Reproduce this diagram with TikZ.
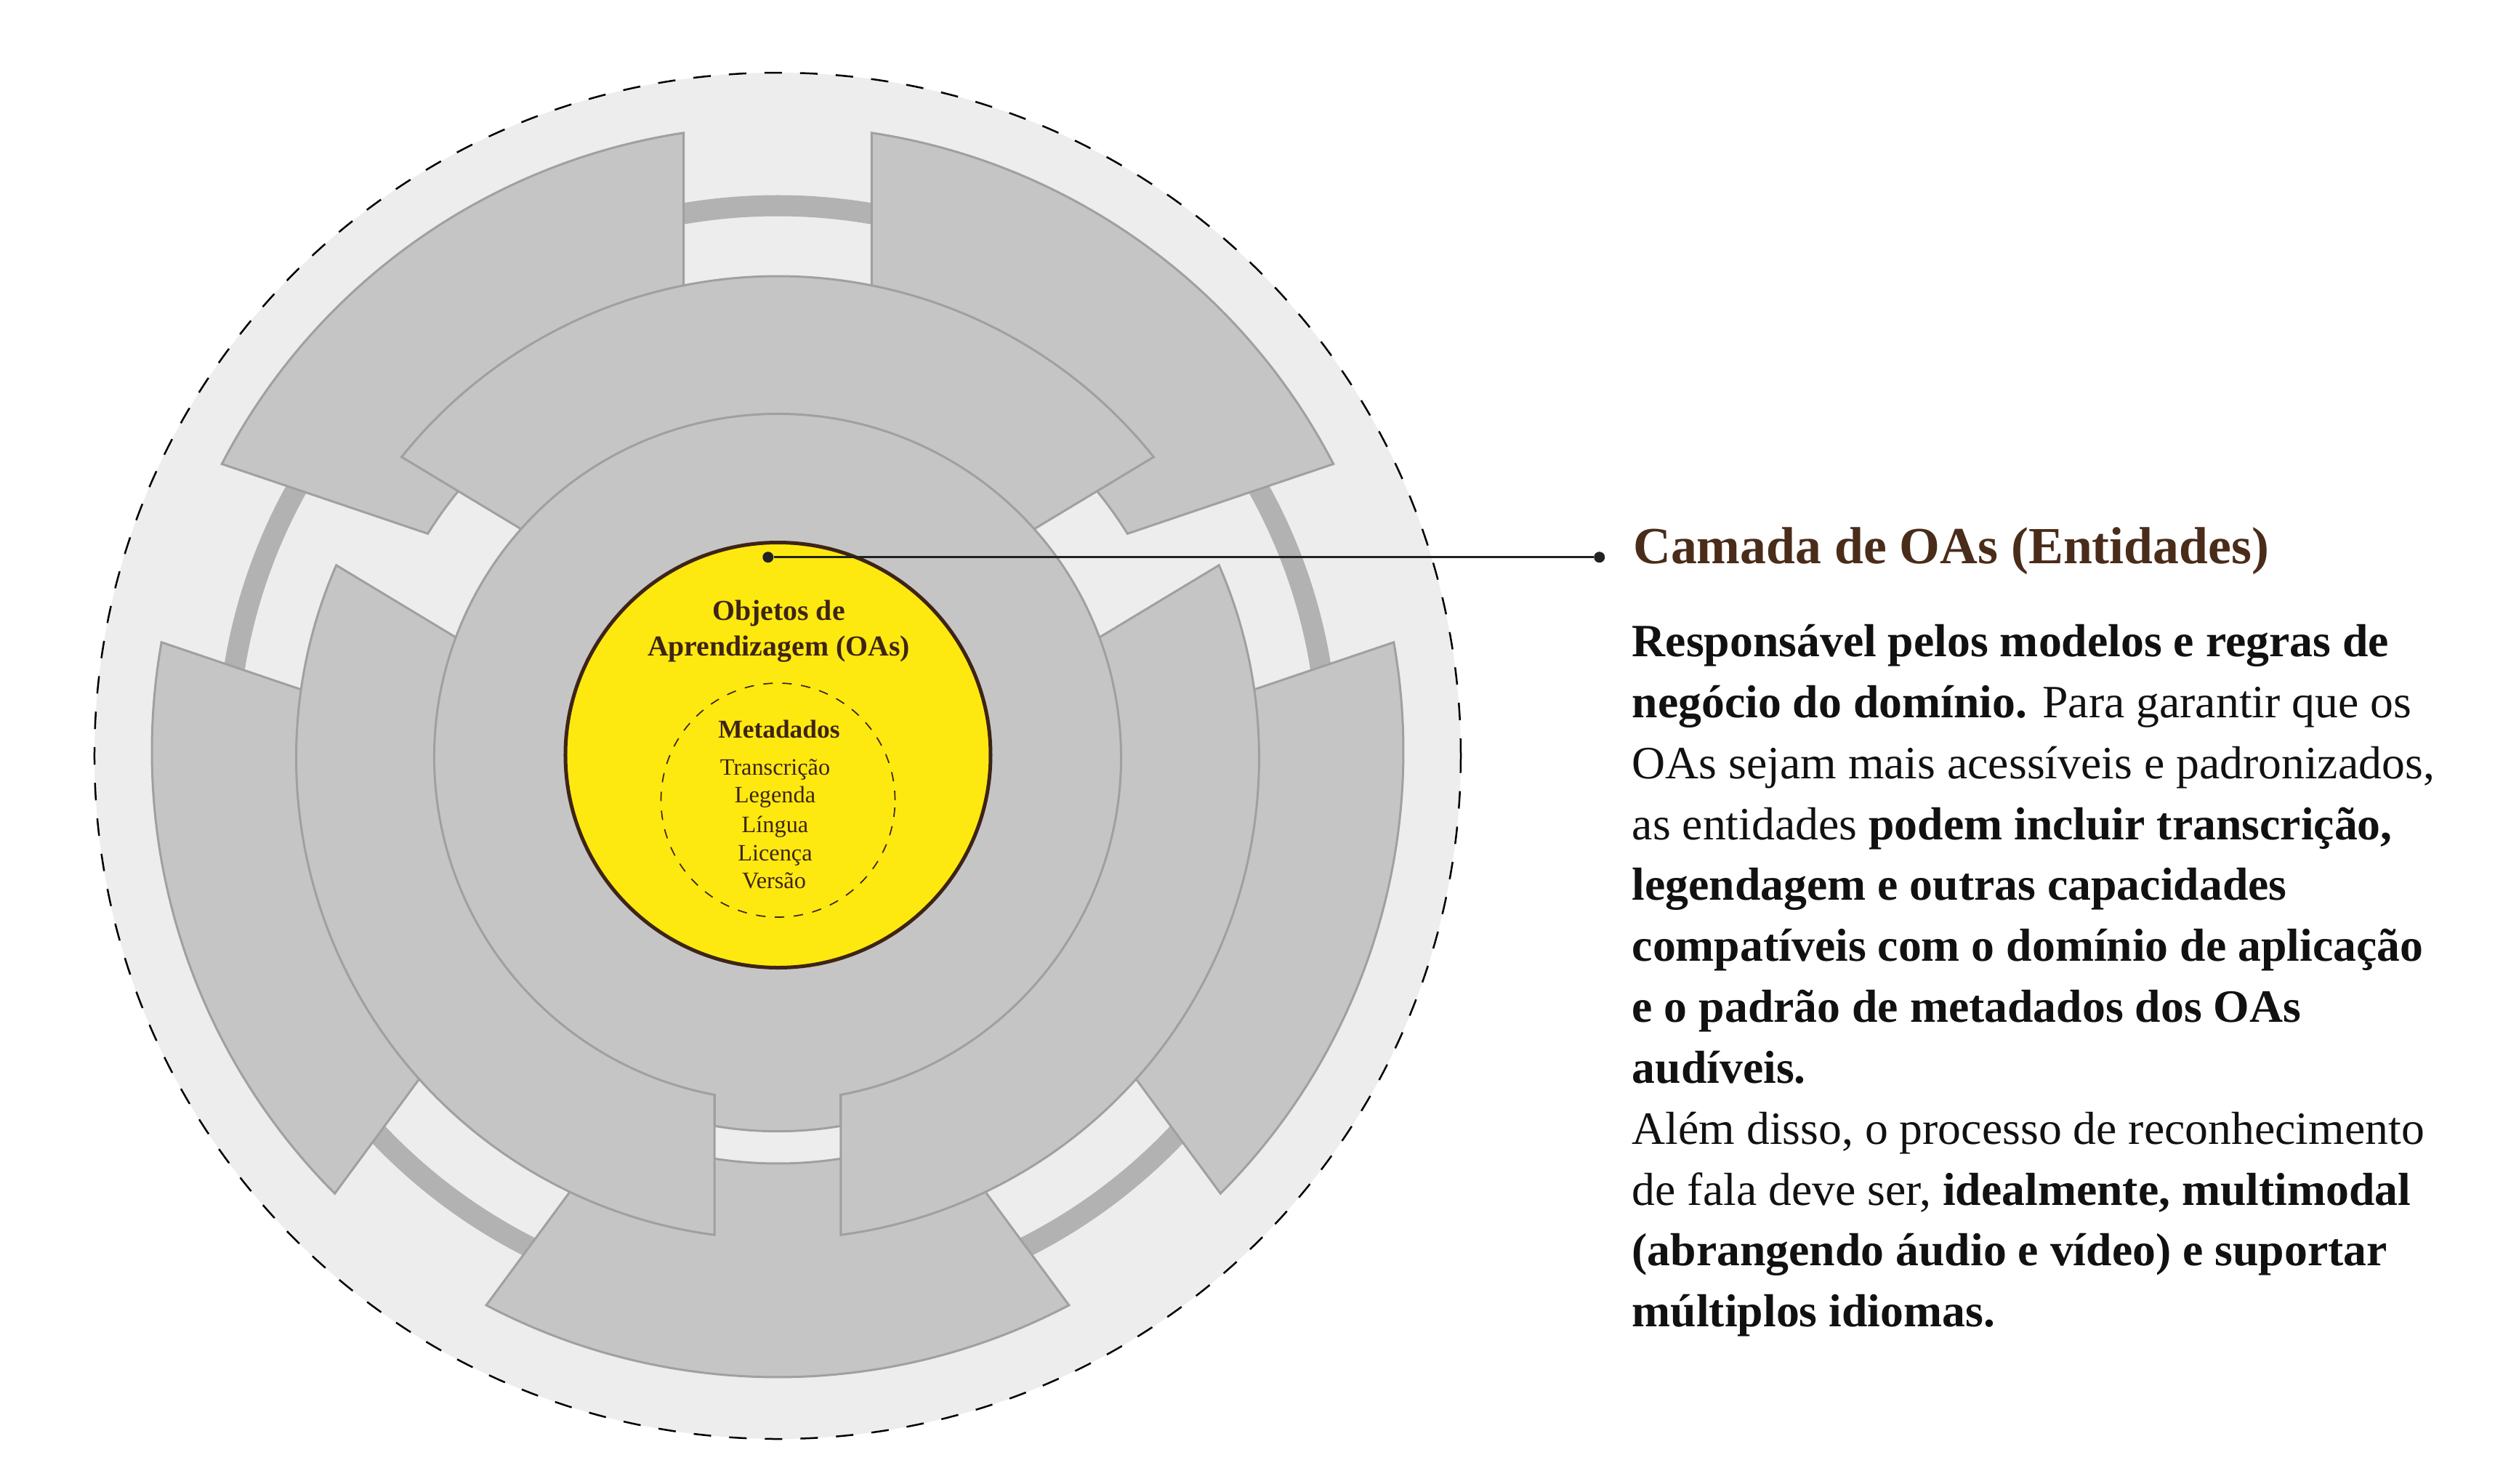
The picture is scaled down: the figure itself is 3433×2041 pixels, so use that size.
\documentclass[tikz,border=0pt]{standalone}
\usepackage{fontspec}
\setmainfont{Liberation Serif}
\definecolor{bgC}{HTML}{EDEDED}
\definecolor{pieceC}{HTML}{C5C5C5}
\definecolor{edgeC}{HTML}{A0A0A0}
\definecolor{bandC}{HTML}{B2B2B2}
\definecolor{yelC}{HTML}{FDE910}
\definecolor{brnC}{HTML}{3E2415}
\definecolor{headC}{HTML}{4A2C1A}
\definecolor{inkC}{HTML}{111111}
\definecolor{dotC}{HTML}{222222}
\newcommand{\ringpiece}[5]{%
  \pgfmathsetmacro{\rpaO}{#1+asin(#3/#5)}%
  \pgfmathsetmacro{\rpbO}{#2-asin(#3/#5)}%
  \pgfmathsetmacro{\rpaI}{#1+asin(#3/#4)}%
  \pgfmathsetmacro{\rpbI}{#2-asin(#3/#4)}%
  \draw[piece] (\rpaO:#5) arc[start angle=\rpaO, end angle=\rpbO, radius=#5]
    -- (\rpbI:#4) arc[start angle=\rpbI, end angle=\rpaI, radius=#4] -- cycle;%
}
\begin{document}
\begin{tikzpicture}[x=0.01cm,y=0.01cm,
  piece/.style={fill=pieceC, draw=edgeC, line width=0.03cm},
  ttl/.style={anchor=base, inner sep=0, text=brnC, font=\fontsize{11.32}{13}\selectfont\bfseries},
  mttl/.style={anchor=base, inner sep=0, text=brnC, font=\fontsize{10.07}{12}\selectfont\bfseries},
  itm/.style={anchor=base, inner sep=0, text=brnC, font=\fontsize{9.19}{11}\selectfont},
  head/.style={anchor=base west, inner sep=0, text=headC, font=\fontsize{20.4}{24}\selectfont\bfseries},
  body/.style={anchor=base west, inner sep=0, text=inkC, font=\fontsize{18.12}{23.9}\selectfont},
  dotn/.style={circle, fill=dotC, inner sep=0, minimum size=0.15cm},
  conn/.style={draw=dotC, line width=0.035cm}]
\useasboundingbox (-1070,-1001) rectangle (2363,1040);

% background disc
\fill[bgC] (0,0) circle[radius=940];
\draw[black, line width=0.025cm, dash pattern=on 0.24cm off 0.25cm] (0,0) circle[radius=940];

% thick ring band
\draw[bandC, line width=0.29cm] (0,0) circle[radius=757];

% outer pieces
\begin{scope}[shift={(0,6)}]
  \ringpiece{90}{161.3}{129.5}{567}{861}
  \ringpiece{161.3}{233.6}{129.5}{567}{861}
  \ringpiece{233.6}{306.4}{129.5}{567}{861}
  \ringpiece{306.4}{378.7}{129.5}{567}{861}
  \ringpiece{18.7}{90}{129.5}{567}{861}
\end{scope}

% middle pieces
\begin{scope}[shift={(0,-2.5)}]
  \ringpiece{31.1}{148.9}{87}{380}{662.5}
  \ringpiece{148.9}{270}{87}{380}{662.5}
  \ringpiece{270}{391.1}{87}{380}{662.5}
\end{scope}

% inner disc with bottom tab
\begin{scope}[shift={(0,-2)}]
  \draw[piece] (-79.43:472.5) arc[start angle=-79.43, end angle=259.43, radius=472.5]
    -- (260.30:514.7) arc[start angle=260.30, end angle=279.70, radius=514.7] -- cycle;
\end{scope}

% yellow core
\draw[fill=yelC, draw=brnC, line width=0.05cm] (0.5,1) circle[radius=292.5];
\draw[brnC, line width=0.017cm, dash pattern=on 0.13cm off 0.13cm] (0.5,-61) circle[radius=161];

\node[ttl] (t1) at (1.5,187) {Objetos de};
\node[ttl] (t2) at (1.5,137.6) {Aprendizagem (OAs)};
\node[mttl] (t3) at (2,25) {Metadados};
\node[itm] (i1) at (-3.5,-26.2) {Transcrição};
\node[itm] (i2) at (-3.5,-64.7) {Legenda};
\node[itm] (i3) at (-3.5,-105.8) {Língua};
\node[itm] (i4) at (-3.5,-144.3) {Licença};
\node[itm] (i5) at (-5,-182.9) {Versão};

% connector
\node[dotn] (p1) at (-13.2,273.3) {};
\node[dotn] (p2) at (1130.7,273.3) {};
\draw[conn] (p1) -- (p2);

% right text
\node[head] (h) at (1176.5,265) {Camada de OAs (Entidades)};
\node[body] (b1) at (1175,136.5) {\textbf{Responsável pelos modelos e regras de}};
\node[body] (b2) at (1175,52.7) {\textbf{negócio do domínio.} Para garantir que os};
\node[body] (b3) at (1175,-31.2) {OAs sejam mais acessíveis e padronizados,};
\node[body] (b4) at (1175,-115.0) {as entidades \textbf{podem incluir transcrição,}};
\node[body] (b5) at (1175,-198.8) {\textbf{legendagem e outras capacidades}};
\node[body] (b6) at (1175,-282.6) {\textbf{compatíveis com o domínio de aplicação}};
\node[body] (b7) at (1175,-366.5) {\textbf{e o padrão de metadados dos OAs}};
\node[body] (b8) at (1175,-450.3) {\textbf{audíveis.}};
\node[body] (b9) at (1175,-534.1) {Além disso, o processo de reconhecimento};
\node[body] (b10) at (1175,-618.0) {de fala deve ser, \textbf{idealmente, multimodal}};
\node[body] (b11) at (1175,-701.8) {\textbf{(abrangendo áudio e vídeo) e suportar}};
\node[body] (b12) at (1175,-785.6) {\textbf{múltiplos idiomas.}};
\end{tikzpicture}
\end{document}
